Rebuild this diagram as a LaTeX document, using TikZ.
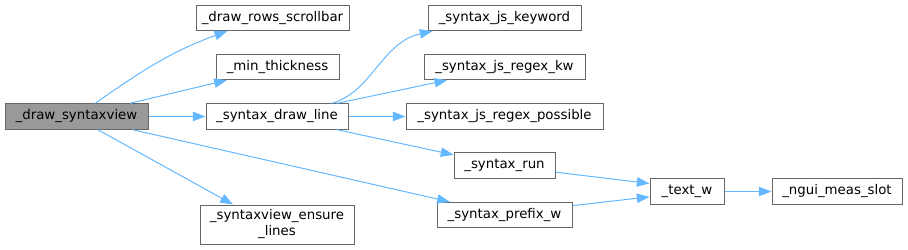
\documentclass[tikz,border=0pt]{standalone}
\usepackage{fontspec}
\setmainfont{DejaVu Sans}
\usetikzlibrary{arrows.meta}
\definecolor{edgeblue}{HTML}{63B8FF}
\definecolor{boxline}{HTML}{666666}
\definecolor{mainfill}{HTML}{999999}
\begin{document}
\begin{tikzpicture}[x=0.75pt, y=-0.75pt,
  every node/.style={font=\fontsize{10}{12}\selectfont},
  fn/.style={draw=boxline, line width=0.75pt, fill=white, minimum height=19pt, inner sep=0pt, align=center},
  call/.style={draw=edgeblue, line width=0.75pt, -{Triangle[length=9.5pt, width=7pt]}, edgeblue}]
  \useasboundingbox (0,0) rectangle (908,250);
  % functions
  \node[fn, fill=mainfill, minimum width=107.25pt] (drawsv) at (76.5,116.5) {\_draw\_syntaxview};
  \node[fn, minimum width=114.75pt] (rowsbar) at (272.5,18) {\_draw\_rows\_scrollbar};
  \node[fn, minimum width=92.25pt] (minthick) at (277.5,67) {\_min\_thickness};
  \node[fn, minimum width=106.5pt] (drawline) at (277,116.5) {\_syntax\_draw\_line};
  \node[fn, minimum width=115.5pt, minimum height=29.25pt] (ensure) at (277,224.5) {\_syntaxview\_ensure\\\_lines};
  \node[fn, minimum width=114.75pt] (jskw) at (504.5,18) {\_syntax\_js\_keyword};
  \node[fn, minimum width=120.75pt] (regexkw) at (504.5,67) {\_syntax\_js\_regex\_kw};
  \node[fn, minimum width=147.75pt] (regexposs) at (504.5,116.5) {\_syntax\_js\_regex\_possible};
  \node[fn, minimum width=75.75pt] (synrun) at (504.5,165.5) {\_syntax\_run};
  \node[fn, minimum width=101.25pt] (prefixw) at (504.5,215) {\_syntax\_prefix\_w};
  \node[fn, minimum width=55.5pt] (textw) at (687,191.5) {\_text\_w};
  \node[fn, minimum width=97.5pt] (measslot) at (837,191.5) {\_ngui\_meas\_slot};
  % calls
  \draw[call] ([xshift=14pt]drawsv.north) to[out=35, in=200] ([xshift=-34pt]rowsbar.south);
  \draw[call] ([xshift=40pt]drawsv.north) -- ([xshift=-38pt]minthick.south);
  \draw[call] (drawsv.east) -- (drawline.west);
  \draw[call] ([xshift=16pt]drawsv.south) -- ([xshift=-33pt]ensure.north);
  \draw[call] ([xshift=42pt]drawsv.south) -- ([xshift=-41pt]prefixw.north);
  \draw[call] ([xshift=41pt]drawline.north) .. controls (372,92) and (382,42) .. ([xshift=-54pt]jskw.south);
  \draw[call] ([xshift=45pt]drawline.north) -- ([xshift=-43pt]regexkw.south);
  \draw[call] (drawline.east) -- (regexposs.west);
  \draw[call] ([xshift=45pt]drawline.south) -- ([yshift=8pt]synrun.west);
  \draw[call] ([yshift=-5pt]synrun.east) -- ([yshift=6pt]textw.west);
  \draw[call] ([yshift=7pt]prefixw.east) -- ([yshift=-4pt]textw.west);
  \draw[call] (textw.east) -- (measslot.west);
\end{tikzpicture}
\end{document}
